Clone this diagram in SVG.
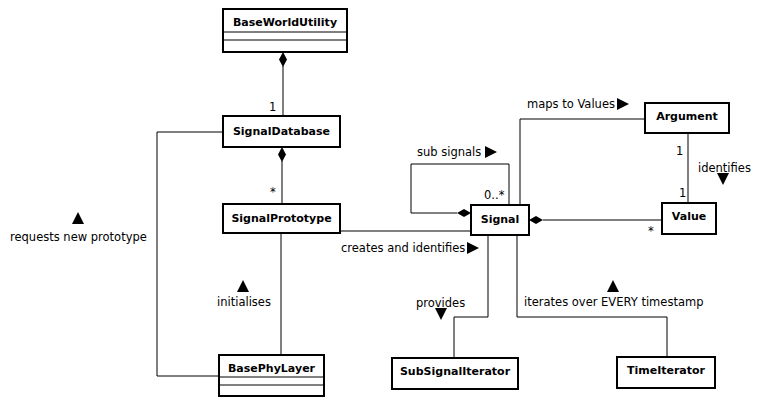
<svg xmlns="http://www.w3.org/2000/svg" width="760" height="410" viewBox="0 0 760 410">
<style>
.box{fill:#fff;stroke:#000;stroke-width:2}
.sep{stroke:#000;stroke-width:1}
.t{font-family:"DejaVu Sans",sans-serif;font-weight:bold;font-size:11px;text-anchor:middle}
.l{font-family:"DejaVu Sans",sans-serif;font-size:11.5px}
.c{fill:none;stroke:#000;stroke-width:1}
.d{fill:#000}
</style>
<rect width="760" height="410" fill="#fff"/>
<g id="connectors">
<line class="c" x1="283" y1="66" x2="283" y2="116"/>
<polygon class="d" points="283,52 287,59.5 283,67 279,59.5"/>
<line class="c" x1="282" y1="161" x2="282" y2="204"/>
<polygon class="d" points="282,147 286,154.5 282,162 278,154.5"/>
<polyline class="c" points="223,132 157,132 157,376 219,376"/>
<line class="c" x1="281" y1="233" x2="281" y2="355"/>
<line class="c" x1="340" y1="231" x2="471" y2="231"/>
<polyline class="c" points="457,213 411,213 411,164 509,164 509,205"/>
<polygon class="d" points="471,213 464,209 457,213 464,217"/>
<polyline class="c" points="520,205 520,119 645,119"/>
<line class="c" x1="543" y1="220" x2="662" y2="220"/>
<polygon class="d" points="529,220 536,216 543,220 536,224"/>
<line class="c" x1="688" y1="133" x2="688" y2="203"/>
<polyline class="c" points="488,235 488,317 454,317 454,358"/>
<polyline class="c" points="517,235 517,317 667,317 667,357"/>
</g>
<g id="labels">
<text class="l" x="269" y="111">1</text>
<text class="l" x="270" y="196">*</text>
<text class="l" x="484" y="199">0..*</text>
<text class="l" x="676" y="155">1</text>
<text class="l" x="679" y="197">1</text>
<text class="l" x="648" y="235">*</text>
<text class="l" x="10" y="241">requests new prototype</text>
<polygon class="d" points="78,212 84,224 72,224"/>
<text class="l" x="217" y="306">initialises</text>
<polygon class="d" points="243,280 249,292 237,292"/>
<text class="l" x="341" y="252">creates and identifies</text>
<polygon class="d" points="467,242 479,248 467,254"/>
<text class="l" x="417" y="156">sub signals</text>
<polygon class="d" points="485,146 497,152 485,158"/>
<text class="l" x="527" y="108">maps to Values</text>
<polygon class="d" points="617,98 629,104 617,110"/>
<text class="l" x="698" y="172">identifies</text>
<polygon class="d" points="717,173 729,173 723,185"/>
<text class="l" x="416" y="307">provides</text>
<polygon class="d" points="435,308 447,308 441,320"/>
<text class="l" x="524" y="306">iterates over EVERY timestamp</text>
<polygon class="d" points="613,280 619,292 607,292"/>
</g>
<g id="BaseWorldUtility">
<rect class="box" x="223" y="9" width="124" height="43"/>
<line class="sep" x1="223" y1="32" x2="347" y2="32"/>
<line class="sep" x1="223" y1="40" x2="347" y2="40"/>
<text class="t" x="285" y="26">BaseWorldUtility</text>
</g>
<g id="SignalDatabase">
<rect class="box" x="223" y="116" width="117" height="31"/>
<text class="t" x="281.5" y="135">SignalDatabase</text>
</g>
<g id="SignalPrototype">
<rect class="box" x="223" y="204" width="117" height="29"/>
<text class="t" x="281.5" y="222">SignalPrototype</text>
</g>
<g id="BasePhyLayer">
<rect class="box" x="219" y="355" width="105" height="41"/>
<line class="sep" x1="219" y1="377" x2="324" y2="377"/>
<line class="sep" x1="219" y1="385" x2="324" y2="385"/>
<text class="t" x="271.5" y="372">BasePhyLayer</text>
</g>
<g id="Signal">
<rect class="box" x="471" y="205" width="58" height="30"/>
<text class="t" x="500" y="223">Signal</text>
</g>
<g id="Argument">
<rect class="box" x="645" y="103" width="84" height="30"/>
<text class="t" x="687" y="120">Argument</text>
</g>
<g id="Value">
<rect class="box" x="662" y="203" width="54" height="31"/>
<text class="t" x="689" y="220">Value</text>
</g>
<g id="SubSignalIterator">
<rect class="box" x="392" y="358" width="126" height="31"/>
<text class="t" x="455" y="375">SubSignalIterator</text>
</g>
<g id="TimeIterator">
<rect class="box" x="617" y="357" width="98" height="31"/>
<text class="t" x="666" y="374">TimeIterator</text>
</g>
</svg>
